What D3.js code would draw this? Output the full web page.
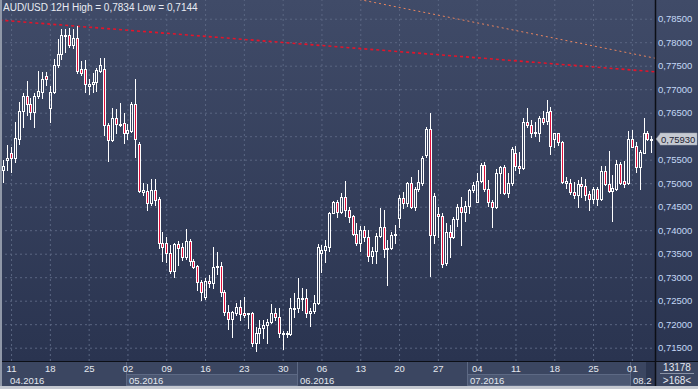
<!DOCTYPE html>
<html>
<head>
<meta charset="utf-8">
<script src="https://cdn.jsdelivr.net/npm/d3@7"></script>
<style>
  html, body { margin: 0; padding: 0; background: #2c3652; }
  svg { display: block; font-family: "Liberation Sans", Arial, sans-serif; }
</style>
</head>
<body>
<svg id="chart" width="698" height="389"></svg>
<script>
/* AUD/USD 12H candles, 168 bars, 08.04.2016 - 03.08.2016 */
const open = [
  0.7528, 0.7549, 0.7564, 0.7554, 0.7595, 0.7654, 0.7686, 0.7668, 0.7652, 0.7686,
  0.7695, 0.7728, 0.7661, 0.7693, 0.7751, 0.7775, 0.7813, 0.7815, 0.7794, 0.7810,
  0.7744, 0.7744, 0.7707, 0.7710, 0.7715, 0.7739, 0.7744, 0.7624, 0.7592, 0.7638,
  0.7624, 0.7629, 0.7607, 0.7612, 0.7668, 0.7583, 0.7482, 0.7483, 0.7457, 0.7486,
  0.7466, 0.7372, 0.7373, 0.7351, 0.7314, 0.7371, 0.7365, 0.7344, 0.7376, 0.7335,
  0.7324, 0.7290, 0.7257, 0.7292, 0.7287, 0.7321, 0.7324, 0.7269, 0.7227, 0.7212,
  0.7224, 0.7237, 0.7224, 0.7221, 0.7223, 0.7161, 0.7181, 0.7191, 0.7198, 0.7205,
  0.7224, 0.7216, 0.7181, 0.7179, 0.7179, 0.7232, 0.7234, 0.7254, 0.7255, 0.7223,
  0.7228, 0.7246, 0.7352, 0.7358, 0.7365, 0.7437, 0.7460, 0.7439, 0.7470, 0.7444,
  0.7430, 0.7392, 0.7373, 0.7400, 0.7385, 0.7346, 0.7356, 0.7388, 0.7407, 0.7362,
  0.7362, 0.7390, 0.7425, 0.7469, 0.7457, 0.7501, 0.7449, 0.7487, 0.7501, 0.7560,
  0.7615, 0.7390, 0.7434, 0.7430, 0.7330, 0.7396, 0.7386, 0.7424, 0.7450, 0.7439,
  0.7452, 0.7486, 0.7461, 0.7505, 0.7539, 0.7487, 0.7461, 0.7449, 0.7521, 0.7534,
  0.7480, 0.7501, 0.7564, 0.7537, 0.7532, 0.7630, 0.7624, 0.7606, 0.7606, 0.7638,
  0.7633, 0.7654, 0.7595, 0.7606, 0.7588, 0.7501, 0.7501, 0.7482, 0.7475, 0.7498,
  0.7494, 0.7477, 0.7466, 0.7487, 0.7466, 0.7526, 0.7499, 0.7484, 0.7487, 0.7541,
  0.7505, 0.7501, 0.7595, 0.7579, 0.7534, 0.7565, 0.7607, 0.7591
];
const high = [
  0.7549, 0.7581, 0.7578, 0.7631, 0.7673, 0.7692, 0.7717, 0.7681, 0.7692, 0.7739,
  0.7737, 0.7737, 0.7707, 0.7764, 0.7806, 0.7828, 0.7828, 0.7830, 0.7828, 0.7834,
  0.7761, 0.7762, 0.7721, 0.7734, 0.7746, 0.7766, 0.7766, 0.7629, 0.7659, 0.7657,
  0.7670, 0.7649, 0.7627, 0.7673, 0.7721, 0.7588, 0.7500, 0.7498, 0.7510, 0.7510,
  0.7471, 0.7396, 0.7385, 0.7369, 0.7373, 0.7376, 0.7372, 0.7402, 0.7381, 0.7338,
  0.7326, 0.7295, 0.7298, 0.7305, 0.7365, 0.7354, 0.7333, 0.7273, 0.7241, 0.7229,
  0.7246, 0.7252, 0.7257, 0.7224, 0.7227, 0.7195, 0.7210, 0.7210, 0.7212, 0.7243,
  0.7234, 0.7234, 0.7186, 0.7186, 0.7255, 0.7266, 0.7298, 0.7276, 0.7274, 0.7234,
  0.7262, 0.7371, 0.7369, 0.7379, 0.7439, 0.7463, 0.7464, 0.7480, 0.7505, 0.7449,
  0.7432, 0.7416, 0.7409, 0.7409, 0.7400, 0.7365, 0.7393, 0.7448, 0.7443, 0.7379,
  0.7397, 0.7411, 0.7475, 0.7481, 0.7503, 0.7514, 0.7491, 0.7528, 0.7558, 0.7619,
  0.7649, 0.7479, 0.7450, 0.7437, 0.7415, 0.7411, 0.7429, 0.7456, 0.7470, 0.7463,
  0.7487, 0.7503, 0.7521, 0.7544, 0.7546, 0.7507, 0.7464, 0.7530, 0.7537, 0.7539,
  0.7522, 0.7576, 0.7579, 0.7567, 0.7638, 0.7659, 0.7634, 0.7631, 0.7643, 0.7654,
  0.7678, 0.7663, 0.7607, 0.7607, 0.7590, 0.7513, 0.7510, 0.7503, 0.7507, 0.7513,
  0.7510, 0.7484, 0.7491, 0.7491, 0.7537, 0.7537, 0.7568, 0.7518, 0.7549, 0.7546,
  0.7548, 0.7612, 0.7614, 0.7588, 0.7571, 0.7638, 0.7612, 0.7600
];
const low = [
  0.7503, 0.7528, 0.7524, 0.7546, 0.7583, 0.7620, 0.7645, 0.7637, 0.7620, 0.7681,
  0.7682, 0.7709, 0.7631, 0.7692, 0.7747, 0.7764, 0.7780, 0.7790, 0.7787, 0.7734,
  0.7730, 0.7695, 0.7690, 0.7695, 0.7697, 0.7737, 0.7603, 0.7548, 0.7590, 0.7606,
  0.7622, 0.7586, 0.7595, 0.7610, 0.7555, 0.7482, 0.7475, 0.7443, 0.7454, 0.7454,
  0.7362, 0.7335, 0.7333, 0.7308, 0.7300, 0.7326, 0.7337, 0.7338, 0.7326, 0.7319,
  0.7273, 0.7252, 0.7253, 0.7280, 0.7278, 0.7307, 0.7260, 0.7220, 0.7189, 0.7173,
  0.7220, 0.7210, 0.7215, 0.7191, 0.7154, 0.7144, 0.7161, 0.7170, 0.7161, 0.7203,
  0.7210, 0.7173, 0.7147, 0.7172, 0.7177, 0.7215, 0.7227, 0.7230, 0.7215, 0.7196,
  0.7223, 0.7243, 0.7312, 0.7333, 0.7356, 0.7436, 0.7429, 0.7436, 0.7430, 0.7418,
  0.7390, 0.7369, 0.7356, 0.7376, 0.7335, 0.7330, 0.7331, 0.7386, 0.7344, 0.7283,
  0.7360, 0.7372, 0.7407, 0.7447, 0.7452, 0.7447, 0.7442, 0.7484, 0.7496, 0.7555,
  0.7303, 0.7372, 0.7385, 0.7322, 0.7327, 0.7342, 0.7384, 0.7409, 0.7369, 0.7420,
  0.7436, 0.7482, 0.7459, 0.7503, 0.7484, 0.7452, 0.7407, 0.7447, 0.7479, 0.7477,
  0.7470, 0.7496, 0.7528, 0.7521, 0.7530, 0.7620, 0.7598, 0.7600, 0.7590, 0.7627,
  0.7627, 0.7562, 0.7578, 0.7581, 0.7500, 0.7489, 0.7477, 0.7468, 0.7450, 0.7471,
  0.7464, 0.7442, 0.7457, 0.7454, 0.7464, 0.7496, 0.7482, 0.7420, 0.7486, 0.7498,
  0.7491, 0.7499, 0.7576, 0.7524, 0.7487, 0.7564, 0.7592, 0.7567
];
const close = [
  0.7537, 0.7554, 0.7554, 0.7596, 0.7654, 0.7686, 0.7668, 0.7652, 0.7686, 0.7696,
  0.7721, 0.7721, 0.7693, 0.7751, 0.7775, 0.7815, 0.7815, 0.7794, 0.7808, 0.7739,
  0.7735, 0.7710, 0.7710, 0.7715, 0.7741, 0.7751, 0.7624, 0.7592, 0.7638, 0.7626,
  0.7627, 0.7607, 0.7613, 0.7668, 0.7595, 0.7483, 0.7486, 0.7457, 0.7486, 0.7464,
  0.7372, 0.7365, 0.7351, 0.7314, 0.7371, 0.7362, 0.7344, 0.7376, 0.7335, 0.7322,
  0.7290, 0.7269, 0.7292, 0.7287, 0.7321, 0.7324, 0.7269, 0.7227, 0.7212, 0.7227,
  0.7237, 0.7222, 0.7220, 0.7223, 0.7161, 0.7181, 0.7191, 0.7198, 0.7205, 0.7224,
  0.7215, 0.7181, 0.7179, 0.7182, 0.7234, 0.7234, 0.7255, 0.7256, 0.7223, 0.7228,
  0.7246, 0.7365, 0.7358, 0.7366, 0.7437, 0.7459, 0.7439, 0.7470, 0.7444, 0.7429,
  0.7392, 0.7373, 0.7400, 0.7385, 0.7346, 0.7356, 0.7388, 0.7407, 0.7359, 0.7359,
  0.7390, 0.7392, 0.7469, 0.7457, 0.7501, 0.7449, 0.7487, 0.7503, 0.7553, 0.7615,
  0.7390, 0.7473, 0.7430, 0.7328, 0.7397, 0.7386, 0.7424, 0.7450, 0.7439, 0.7452,
  0.7486, 0.7496, 0.7505, 0.7539, 0.7487, 0.7461, 0.7449, 0.7521, 0.7534, 0.7479,
  0.7501, 0.7572, 0.7537, 0.7532, 0.7630, 0.7624, 0.7606, 0.7608, 0.7638, 0.7631,
  0.7652, 0.7579, 0.7606, 0.7588, 0.7503, 0.7505, 0.7482, 0.7475, 0.7498, 0.7493,
  0.7475, 0.7466, 0.7487, 0.7466, 0.7526, 0.7499, 0.7484, 0.7489, 0.7541, 0.7501,
  0.7499, 0.7595, 0.7578, 0.7534, 0.7567, 0.7607, 0.7594, 0.7593
];

/* x axis: one tick per week (Monday), bar index */
const weekIdx = [2, 12, 22, 32, 42, 52, 62, 72, 82, 92, 102, 112, 122, 132, 142, 152, 162];
const weekLabels = ['11', '18', '25', '02', '09', '16', '23', '30', '06', '13', '20', '27', '04', '11', '18', '25', '01'];
const monthIdx = [0, 32, 76, 120, 162];
const monthLabels = ['04.2016', '05.2016', '06.2016', '07.2016', '08.2016'];
const yTicks = [0.715, 0.72, 0.725, 0.73, 0.735, 0.74, 0.745, 0.75, 0.755, 0.76, 0.765, 0.77, 0.775, 0.78, 0.785];

/* trend lines: [bar index, price] */
const trendRed = [[-1, 0.7847], [168, 0.7737]];
const trendOrange = [[88, 0.7897], [168, 0.7766]];

const svg = d3.select('#chart');
const W = 698;
const H = 389;
const plotR = 655;
const plotB = 361;
const axisB = 386;
const monthEnd = 645;

const x = d3.scaleLinear().domain([-0.85, 167.96]).range([0, plotR]);
const y = d3.scaleLinear().domain([0.715, 0.785]).range([347.7, 18.7]);
const comma = (f) => (v) => d3.format(f)(v).replace('.', ',');
const last = close[close.length - 1];
const ly = Math.round(y(last));

const defs = svg.append('defs');
const grad = defs.append('linearGradient')
  .attr('id', 'bg')
  .attr('x1', 0).attr('y1', 0).attr('x2', 0).attr('y2', 1);
grad.append('stop').attr('offset', '0%').attr('stop-color', '#404b68');
grad.append('stop').attr('offset', '100%').attr('stop-color', '#2a3450');

defs.append('clipPath').attr('id', 'plotClip')
  .append('rect').attr('x', 2).attr('y', 0).attr('width', plotR - 2).attr('height', plotB);

/* background */
svg.append('rect')
  .attr('width', W).attr('height', plotB)
  .attr('fill', 'url(#bg)');

/* bottom rows */
svg.append('rect')
  .attr('x', 0).attr('y', plotB).attr('width', W).attr('height', axisB - plotB)
  .attr('fill', '#3b4661');

/* horizontal grid */
svg.append('g')
  .call(d3.axisLeft(y).tickValues(yTicks).tickSize(-plotR).tickFormat(''))
  .call((g) => g.select('.domain').remove())
  .selectAll('line')
  .attr('stroke', '#5a6682')
  .attr('stroke-dasharray', '2,3');

/* vertical grid */
svg.append('g')
  .attr('transform', `translate(0,${plotB})`)
  .call(d3.axisBottom(x).tickValues(weekIdx).tickSize(-plotB).tickFormat(''))
  .call((g) => g.select('.domain').remove())
  .selectAll('line')
  .attr('stroke', '#5a6682')
  .attr('stroke-dasharray', '2,3');

const plot = svg.append('g').attr('clip-path', 'url(#plotClip)');

/* trend lines */
const line = d3.line().x((d) => x(d[0])).y((d) => y(d[1]));
plot.append('path')
  .attr('d', line(trendOrange))
  .attr('fill', 'none')
  .attr('stroke', '#e8845e')
  .attr('stroke-width', 1)
  .attr('stroke-dasharray', '2,3');
plot.append('path')
  .attr('d', line(trendRed))
  .attr('fill', 'none')
  .attr('stroke', '#e4142a')
  .attr('stroke-width', 1.6)
  .attr('stroke-dasharray', '3,3');

/* candles */
const bars = d3.range(close.length).map((i) => ({
  i, o: open[i], h: high[i], l: low[i], c: close[i]
}));

const candle = plot.selectAll('g.candle')
  .data(bars)
  .join('g')
  .attr('class', 'candle');

candle.each(function (d) {
  const g = d3.select(this);
  const cx = Math.round(x(d.i));
  const top = Math.round(y(Math.max(d.o, d.c)));
  let bot = Math.round(y(Math.min(d.o, d.c)));
  if (bot - top < 1) bot = top + 1;
  const hi = Math.round(y(d.h));
  const lo = Math.round(y(d.l));

  if (hi < top) {
    g.append('line')
      .attr('x1', cx + 0.5).attr('x2', cx + 0.5)
      .attr('y1', hi).attr('y2', top)
      .attr('stroke', '#ffffff');
  }
  if (lo > bot) {
    g.append('line')
      .attr('x1', cx + 0.5).attr('x2', cx + 0.5)
      .attr('y1', bot + 1).attr('y2', lo + 1)
      .attr('stroke', '#ffffff');
  }
  g.append('rect')
    .attr('x', cx - 0.5)
    .attr('y', top + 0.5)
    .attr('width', 2)
    .attr('height', bot - top)
    .attr('fill', d.c < d.o ? '#e0103c' : 'none')
    .attr('stroke', '#ffffff');
});

/* frame lines */
svg.append('line')
  .attr('x1', 0).attr('x2', W).attr('y1', plotB + 0.5).attr('y2', plotB + 0.5)
  .attr('stroke', '#0c0f16');

/* y labels (the one under the price label is hidden) */
svg.append('g')
  .attr('transform', `translate(${plotR},0)`)
  .call(d3.axisRight(y).tickValues(yTicks.filter((v) => Math.abs(y(v) - ly) > 9))
    .tickSize(0).tickPadding(3).tickFormat(comma('.5f')))
  .call((g) => g.select('.domain').remove())
  .selectAll('text')
  .attr('fill', '#c4d8f6')
  .attr('font-size', 9.5)
  .attr('font-family', '"Liberation Sans", Arial, sans-serif');

/* scroll marker at the end of the month row */
svg.append('rect')
  .attr('x', monthEnd + 1).attr('y', plotB + 1).attr('width', plotR - monthEnd - 1).attr('height', axisB - plotB - 1)
  .attr('fill', '#2c3650');

/* month row */
const monthX = monthIdx.map((m) => Math.round(x(m) - 1.5));
monthX.forEach((mx, k) => {
  const nx = k < monthX.length - 1 ? monthX[k + 1] : monthEnd;
  const x0 = Math.max(mx, 2);
  if (k % 2 === 1) {
    svg.append('rect')
      .attr('x', x0 + 0.5).attr('y', 374.5)
      .attr('width', nx - x0).attr('height', 11)
      .attr('fill', '#4b5772')
      .attr('stroke', '#5d6984');
  }
  if (k > 0) {
    svg.append('line')
      .attr('x1', mx + 0.5).attr('x2', mx + 0.5)
      .attr('y1', plotB + 1).attr('y2', axisB)
      .attr('stroke', '#5d6984');
  }
  const t = svg.append('text')
    .attr('x', x0 + (k === 0 ? 8 : 3))
    .attr('y', 383.5)
    .attr('fill', '#e4e8f0')
    .attr('font-size', 9.5)
    .text(monthLabels[k]);
  /* the last month label is cut at the right axis */
  const room = (k < monthX.length - 1 ? nx : plotR) - x0 - 4;
  let s = monthLabels[k];
  while (s.length > 1 && t.node().getComputedTextLength() > room) {
    s = s.slice(0, -1);
    t.text(s);
  }
});

/* day labels */
svg.append('g')
  .attr('transform', `translate(0,${plotB})`)
  .call(d3.axisBottom(x).tickValues(weekIdx).tickSize(0).tickPadding(4)
    .tickFormat((d, k) => weekLabels[k]))
  .call((g) => g.select('.domain').remove())
  .selectAll('text')
  .attr('fill', '#e4e8f0')
  .attr('font-size', 9.5)
  .attr('font-family', '"Liberation Sans", Arial, sans-serif');

/* right-bottom corner */
svg.append('rect')
  .attr('x', plotR + 1).attr('y', plotB + 1)
  .attr('width', W - plotR - 1).attr('height', axisB - plotB - 1)
  .attr('fill', '#3b4661');
svg.append('line')
  .attr('x1', plotR + 0.5).attr('x2', plotR + 0.5).attr('y1', 0).attr('y2', axisB)
  .attr('stroke', '#0c0f16')
  .attr('stroke-width', 1.5);
svg.append('text')
  .attr('x', 677).attr('y', 371)
  .attr('text-anchor', 'middle')
  .attr('fill', '#e4e8f0')
  .attr('font-size', 10)
  .text('13178');
svg.append('line')
  .attr('x1', 660).attr('x2', 694).attr('y1', 373.5).attr('y2', 373.5)
  .attr('stroke', '#8a93a6');
svg.append('text')
  .attr('x', 677).attr('y', 383.5)
  .attr('text-anchor', 'middle')
  .attr('fill', '#e4e8f0')
  .attr('font-size', 10)
  .text('>168<');

/* current price label */
svg.append('path')
  .attr('d', `M ${plotR + 1} ${ly} L ${plotR + 5} ${ly - 5} L ${plotR + 5} ${ly - 6}
              L ${W - 1} ${ly - 6} L ${W - 1} ${ly + 6} L ${plotR + 5} ${ly + 6}
              L ${plotR + 5} ${ly + 5} Z`)
  .attr('fill', '#c6cad2')
  .attr('stroke', '#9aa0ac')
  .attr('stroke-width', 0.5);
svg.append('text')
  .attr('x', plotR + 6)
  .attr('y', ly + 3.5)
  .attr('fill', '#1c2232')
  .attr('font-size', 9.5)
  .text(comma('.5f')(last));

/* title */
const fmt4 = comma('.4f');
svg.append('text')
  .attr('x', 3)
  .attr('y', 11)
  .attr('fill', '#e8ebf2')
  .attr('font-size', 10)
  .text(`AUD/USD 12H High = ${fmt4(d3.max(high))} Low = ${fmt4(d3.min(low))}`);

/* outer border */
svg.append('rect')
  .attr('x', 0).attr('y', 0).attr('width', 2).attr('height', H)
  .attr('fill', '#9098a8');
svg.append('rect')
  .attr('x', 0).attr('y', axisB).attr('width', W).attr('height', H - axisB)
  .attr('fill', '#c4c8d0');
</script>
</body>
</html>
